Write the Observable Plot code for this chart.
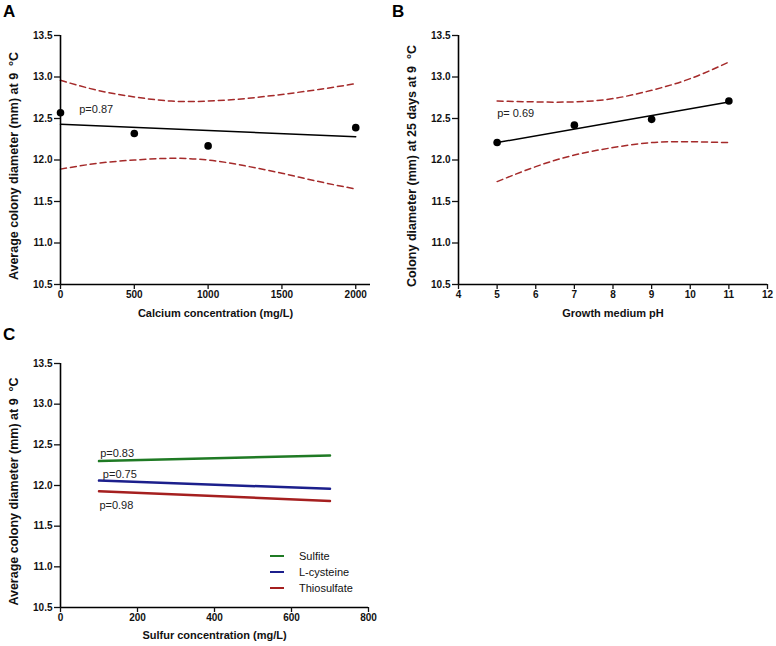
<!DOCTYPE html>
<html>
<head>
<meta charset="utf-8">
<script src="https://cdn.jsdelivr.net/npm/d3@7"></script>
<script src="https://cdn.jsdelivr.net/npm/@observablehq/plot@0.6"></script>
<style>
  html, body { margin: 0; padding: 0; background: #fff; }
  #root { position: relative; width: 776px; height: 646px; font-family: "Liberation Sans", Arial, sans-serif; }
  .panel { position: absolute; }
  .letter { position: absolute; font-weight: bold; font-size: 17px; color: #000; }
  .legend { position: absolute; font-size: 11px; color: #111; }
  .legend .row { display: flex; align-items: center; height: 16px; }
  .legend .sw { width: 14px; height: 2.5px; margin-right: 15px; }
</style>
</head>
<body>
<div id="root"></div>
<script>
// ---------- shared ----------
const yTicks = [10.5, 11.0, 11.5, 12.0, 12.5, 13.0, 13.5];
const yDomain = [10.5, 13.5];

// ---------- Panel A: calcium ----------
const calciumTicks = [0, 500, 1000, 1500, 2000];
const calciumX = [0, 500, 1000, 2000];
const calciumDiam = [12.57, 12.32, 12.17, 12.39];
const calciumFitX = [0, 2000];
const calciumFitY = [12.43, 12.28];
const calciumBandX = [0, 250, 500, 750, 1000, 1250, 1500, 1750, 2000];
const calciumUpper = [12.96, 12.84, 12.76, 12.71, 12.71, 12.74, 12.79, 12.85, 12.92];
const calciumLower = [11.89, 11.96, 12.00, 12.02, 12.00, 11.93, 11.84, 11.74, 11.65];
const calciumP = ["p=0.87"];
const calciumPX = [127];
const calciumPY = [12.61];

// ---------- Panel B: pH ----------
const phTicks = [4, 5, 6, 7, 8, 9, 10, 11, 12];
const phX = [5, 7, 9, 11];
const phDiam = [12.21, 12.42, 12.49, 12.71];
const phFitX = [5, 11];
const phFitY = [12.21, 12.70];
const phBandX = [5, 6, 7, 8, 9, 10, 11];
const phUpper = [12.71, 12.70, 12.70, 12.74, 12.84, 12.98, 13.18];
const phLower = [11.74, 11.92, 12.06, 12.15, 12.21, 12.22, 12.21];
const phP = ["p= 0.69"];
const phPX = [5];
const phPY = [12.56];

// ---------- Panel C: sulfur ----------
const sulfurTicks = [0, 200, 400, 600, 800];
const sulfurSeries = ["Sulfite", "L-cysteine", "Thiosulfate"];
const sulfurColors = ["#1f7a24", "#1c1f8c", "#a51f1f"];
const sulfurX = [100, 700];
const sulfiteY = [12.30, 12.37];
const cysteineY = [12.06, 11.96];
const thiosulfateY = [11.93, 11.81];
const sulfurP = ["p=0.83", "p=0.75", "p=0.98"];
const sulfurPX = [103, 110, 101];
const sulfurPY = [12.39, 12.13, 11.75];

const bandColor = "#a52a2a";

const baseStyle = {fontFamily: "Liberation Sans, Arial, sans-serif", fontSize: "10px", fontWeight: "bold", color: "#111", background: "transparent", overflow: "visible"};

function axesMarks(xDomain, xTicks, xLabel, yLabel, xLabelDy) {
  return [
    Plot.ruleX([xDomain[0]], {stroke: "#000", strokeWidth: 1.6}),
    Plot.ruleY([yDomain[0]], {stroke: "#000", strokeWidth: 1.6}),
    Plot.axisY({ticks: yTicks, tickFormat: d3.format(".1f"), tickSize: 6, tickPadding: 2, label: null, strokeWidth: 1.3}),
    Plot.axisX({ticks: xTicks, tickFormat: d => String(d), tickSize: 5, tickPadding: 1, label: null, strokeWidth: 1.3}),
    Plot.text([yLabel], {text: d => d, frameAnchor: "left", rotate: -90, dx: -47, dy: 6, textAnchor: "middle", lineAnchor: "middle", fontSize: 12.5, fontWeight: "bold"}),
    Plot.text([xLabel], {text: d => d, frameAnchor: "bottom", dy: xLabelDy, textAnchor: "middle", lineAnchor: "middle", fontSize: 11, fontWeight: "bold"})
  ];
}

function panel({width, height, marginLeft, marginRight, marginTop, marginBottom,
                xDomain, xTicks, xLabel, yLabel, marks}) {
  return Plot.plot({
    width, height, marginLeft, marginRight, marginTop, marginBottom,
    style: baseStyle,
    x: {domain: xDomain, axis: null},
    y: {domain: yDomain, axis: null},
    marks: [...marks, ...axesMarks(xDomain, xTicks, xLabel, yLabel, 29)]
  });
}

const root = document.getElementById("root");
function place(node, left, top) {
  node.classList.add("panel");
  node.style.left = left + "px";
  node.style.top = top + "px";
  root.appendChild(node);
}

// Panel A
const plotA = panel({
  width: 380, height: 320, marginLeft: 60, marginRight: 10, marginTop: 35, marginBottom: 36,
  xDomain: [0, 2100], xTicks: calciumTicks,
  xLabel: "Calcium concentration (mg/L)",
  yLabel: "Average colony diameter (mm) at 9  °C",
  marks: [
    Plot.line(calciumBandX, {x: calciumBandX, y: calciumUpper, curve: "natural", stroke: bandColor, strokeWidth: 1.5, strokeDasharray: "6,4"}),
    Plot.line(calciumBandX, {x: calciumBandX, y: calciumLower, curve: "natural", stroke: bandColor, strokeWidth: 1.5, strokeDasharray: "6,4"}),
    Plot.line(calciumFitX, {x: calciumFitX, y: calciumFitY, stroke: "#000", strokeWidth: 1.5}),
    Plot.dot(calciumX, {x: calciumX, y: calciumDiam, r: 3.8, fill: "#000"}),
    Plot.text(calciumP, {x: calciumPX, y: calciumPY, text: d => d, textAnchor: "start", fontSize: 11, fontWeight: "normal", fill: "#222"})
  ]
});
place(plotA, 0, 0);

// Panel B
const plotB = panel({
  width: 386, height: 320, marginLeft: 68, marginRight: 9, marginTop: 35, marginBottom: 36,
  xDomain: [4, 12], xTicks: phTicks,
  xLabel: "Growth medium pH",
  yLabel: "Colony diameter (mm) at 25 days at 9  °C",
  marks: [
    Plot.line(phBandX, {x: phBandX, y: phUpper, curve: "natural", stroke: bandColor, strokeWidth: 1.5, strokeDasharray: "6,4"}),
    Plot.line(phBandX, {x: phBandX, y: phLower, curve: "natural", stroke: bandColor, strokeWidth: 1.5, strokeDasharray: "6,4"}),
    Plot.line(phFitX, {x: phFitX, y: phFitY, stroke: "#000", strokeWidth: 1.5}),
    Plot.dot(phX, {x: phX, y: phDiam, r: 3.8, fill: "#000"}),
    Plot.text(phP, {x: phPX, y: phPY, text: d => d, textAnchor: "start", fontSize: 11, fontWeight: "normal", fill: "#222"})
  ]
});
place(plotB, 390, 0);

// Panel C
const sulfurRows = [];
[sulfiteY, cysteineY, thiosulfateY].forEach((ys, s) => {
  sulfurX.forEach((x, i) => sulfurRows.push({series: sulfurSeries[s], x, y: ys[i]}));
});
const plotC = Plot.plot({
  width: 380, height: 320, marginLeft: 60, marginRight: 12, marginTop: 37, marginBottom: 39,
  style: baseStyle,
  x: {domain: [0, 800], axis: null},
  y: {domain: yDomain, axis: null},
  color: {domain: sulfurSeries, range: sulfurColors},
  marks: [
    Plot.line(sulfurRows, {x: "x", y: "y", z: "series", stroke: "series", strokeWidth: 2.5}),
    Plot.text(sulfurP, {x: sulfurPX, y: sulfurPY, text: d => d, textAnchor: "start", fontSize: 11, fontWeight: "normal", fill: "#222"}),
    ...axesMarks([0, 800], sulfurTicks, "Sulfur concentration (mg/L)", "Average colony diameter (mm) at 9  °C", 28)
  ]
});
place(plotC, 0, 326);

// Panel letters
[["A", 3, 2], ["B", 392, 2], ["C", 3, 325]].forEach(([t, l, tp]) => {
  const d = document.createElement("div");
  d.className = "letter"; d.textContent = t;
  d.style.left = l + "px"; d.style.top = tp + "px";
  root.appendChild(d);
});

// Legend for panel C
const legend = document.createElement("div");
legend.className = "legend";
legend.style.left = "270px";
legend.style.top = "548px";
sulfurSeries.forEach((name, i) => {
  const row = document.createElement("div");
  row.className = "row";
  const sw = document.createElement("span");
  sw.className = "sw"; sw.style.background = sulfurColors[i];
  const tx = document.createElement("span");
  tx.textContent = name;
  row.appendChild(sw); row.appendChild(tx);
  legend.appendChild(row);
});
root.appendChild(legend);
</script>
</body>
</html>
